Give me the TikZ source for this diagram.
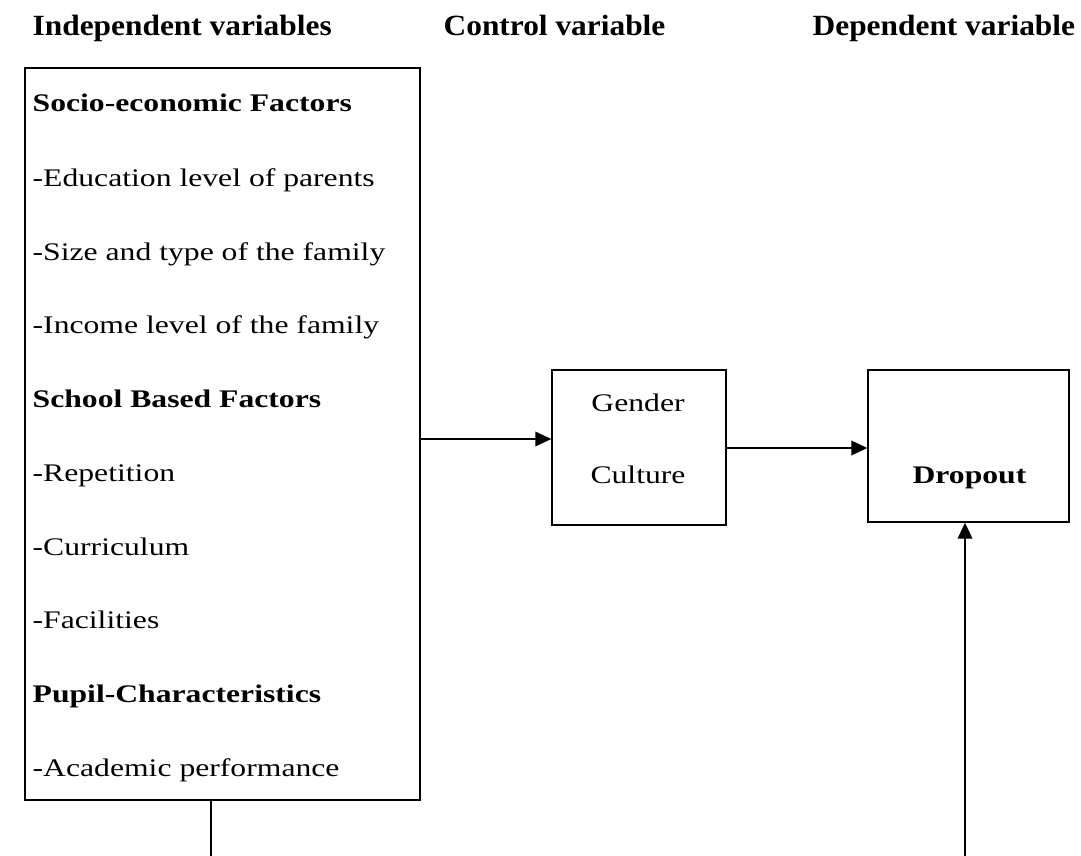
\documentclass[tikz,border=0pt]{standalone}
\usepackage{fontspec}
\setmainfont{Liberation Serif}
\newfontfamily\itemfont[FakeStretch=1.25]{Liberation Serif}
\newfontfamily\headfont[FakeStretch=1.07]{Liberation Serif}
\usepackage{tikz}
\usetikzlibrary{positioning, arrows.meta}

\begin{document}
\begin{tikzpicture}[x=0.75pt, y=-0.75pt, >={Triangle[length=12pt,width=11pt]}, line width=1pt,
  header/.style={anchor=base west, inner sep=0pt, font=\headfont\fontsize{22}{26}\selectfont\bfseries},
  entry/.style={anchor=base west, inner sep=0pt, font=\itemfont\fontsize{19}{23}\selectfont},
  entryhead/.style={entry, font=\itemfont\fontsize{19}{23}\selectfont\bfseries},
  varbox/.style={draw, rectangle, inner sep=0pt},
  ]
  \useasboundingbox (0,0) rectangle (1081,856);

  % column titles
  \node[header] (hind) at (32,36) {Independent variables};
  \node[header] (hctl) at (443,36) {Control variable};
  \node[header] (hdep) at (812,36) {Dependent variable};

  % independent variables
  \node[varbox, minimum width=296.25pt, minimum height=549pt] (indep) at (222.5,434) {};
  \node[entryhead] (socio) at (32,112) {Socio-economic Factors};
  \node[entry] (edu) at (32,186) {-Education level of parents};
  \node[entry] (size) at (32,260) {-Size and type of the family};
  \node[entry] (income) at (32,333) {-Income level of the family};
  \node[entryhead] (school) at (32,407) {School Based Factors};
  \node[entry] (rep) at (32,481) {-Repetition};
  \node[entry] (curr) at (32,555) {-Curriculum};
  \node[entry] (fac) at (32,628) {-Facilities};
  \node[entryhead] (pupil) at (32,702) {Pupil-Characteristics};
  \node[entry] (acad) at (32,776) {-Academic performance};

  % control variable
  \node[varbox, minimum width=130.5pt, minimum height=116.25pt] (control) at (639,447.5) {};
  \node[entry, anchor=base] (gender) at (638,411) {Gender};
  \node[entry, anchor=base] (culture) at (638,483) {Culture};

  % dependent variable
  \node[varbox, minimum width=150.75pt, minimum height=114pt] (dep) at (968.5,446) {};
  \node[entryhead, anchor=base] (dropout) at (969.5,483) {Dropout};

  \coordinate (botL) at (211,856);
  \coordinate (botR) at (965,856);

  \draw[->] (indep.east |- 0,439) -- (control.west |- 0,439);
  \draw[->] (control.east |- 0,448) -- (dep.west |- 0,448);
  \draw (botL |- indep.south) -- (botL);
  \draw[->] (botR) -- (botR |- dep.south);
\end{tikzpicture}
\end{document}
